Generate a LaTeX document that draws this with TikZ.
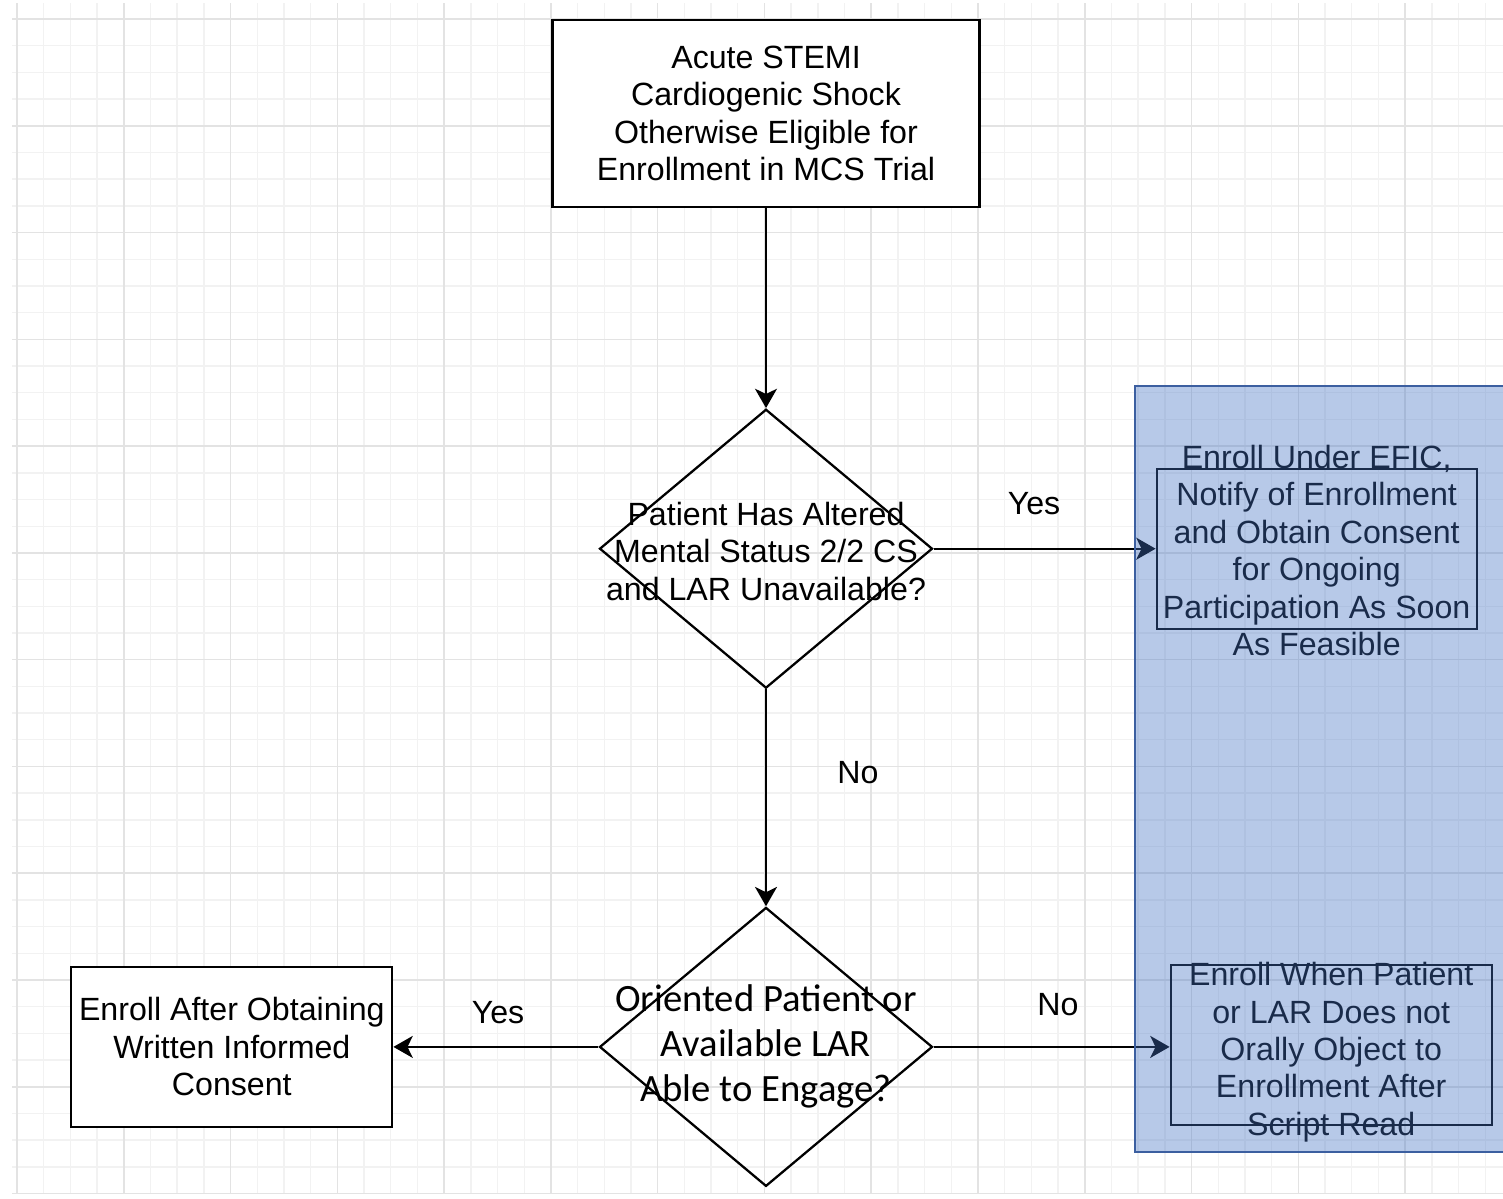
\documentclass[tikz,border=0pt]{standalone}
\usepackage{fontspec}
\setmainfont{Liberation Sans}
\newfontfamily\calibri{Carlito}
\usepackage{xcolor}
\usetikzlibrary{arrows.meta, positioning, shapes.geometric}

\definecolor{gridminor}{HTML}{F2F2F2}
\definecolor{gridmajor}{HTML}{E3E3E3}
\definecolor{eficblue}{HTML}{4472C4}
\definecolor{eficedge}{HTML}{3C5FA0}

\begin{document}
\begin{tikzpicture}[
    x=0.02cm, y=-0.02cm,
    >={Stealth[length=11pt, width=12.5pt, inset=3pt]},
    line width=1.3pt,
    font=\fontsize{18.3}{21.3}\selectfont,
    box/.style={
        draw, rectangle, align=center, inner sep=0pt
    },
    decision/.style={
        draw, diamond, inner sep=0pt,
        minimum width=6.66cm, minimum height=5.58cm
    },
    boxtext/.style={
        align=center, inner sep=0pt
    },
    branch/.style={
        font=\fontsize{18.3}{21.3}\selectfont
    }
]

% page and drawing grid
\useasboundingbox (0,0) rectangle (1503,1198);
\fill[white] (0,0) rectangle (1503,1198);
\begin{scope}[shift={(17,19)}]
\draw[gridminor, line width=0.8pt, step=0.534cm] (-0.1cm,-23.5cm) grid (29.72cm,0.32cm);
\draw[gridmajor, line width=0.9pt, step=2.136cm] (-0.1cm,-23.5cm) grid (29.72cm,0.32cm);
\end{scope}

\node [box, fill=white, minimum width=8.54cm, minimum height=3.74cm] at (766,113.5) (stemi)
    {Acute STEMI\\Cardiogenic Shock\\Otherwise Eligible for\\Enrollment in MCS Trial};

\node [decision, below=4.0cm of stemi] (altered) {};
\node [boxtext] at ([yshift=-1.5pt]altered.center) (alteredtext)
    {Patient Has Altered\\Mental Status 2/2 CS\\and LAR Unavailable?};

\node [decision, below=4.34cm of altered] (oriented) {};
\node [boxtext, font=\calibri\fontsize{22}{25.6}\selectfont] at ([yshift=0.3pt]oriented.center) (orientedtext)
    {Oriented Patient or\\Available LAR\\Able to Engage?};

\node [box, fill=white, minimum width=6.42cm, minimum height=3.2cm, left=4.1cm of oriented] (written)
    {Enroll After Obtaining\\Written Informed\\Consent};

\node [box, minimum width=6.4cm, minimum height=3.2cm, right=4.44cm of altered] (efic) {};
\node [boxtext] at ([shift={(0,-1pt)}]efic.center) (efictext)
    {Enroll Under EFIC,\\Notify of Enrollment\\and Obtain Consent\\for Ongoing\\Participation As Soon\\As Feasible};

\node [box, minimum width=6.42cm, minimum height=3.2cm, right=4.72cm of oriented, yshift=1pt] (oral) {};
\node [boxtext] at ([yshift=-4pt]oral.center) (oraltext)
    {Enroll When Patient\\or LAR Does not\\Orally Object to\\Enrollment After\\Script Read};

\node [branch] at (1034,504) (yesefic) {Yes};
\node [branch] at (858,773) (noaltered) {No};
\node [branch] at (498,1013) (yeswritten) {Yes};
\node [branch] at (1058,1005) (nooral) {No};

\draw[->] (stemi) -- (altered);
\draw[->] (altered) -- (oriented);
\draw[->] (altered.east) -- (efic.west);
\draw[->] (oriented.west) -- (written.east);
\draw[->] (oriented.east) -- (oral.west |- oriented.east);

% EFIC region laid over the right-hand column
\coordinate (eficnw) at (1135,386);
\coordinate (eficse) at (1510,1152);
\fill[eficblue, fill opacity=0.38] (eficnw) rectangle (eficse);
\draw[eficedge, line width=0.9pt] (eficnw) rectangle (eficse);

\end{tikzpicture}
\end{document}
